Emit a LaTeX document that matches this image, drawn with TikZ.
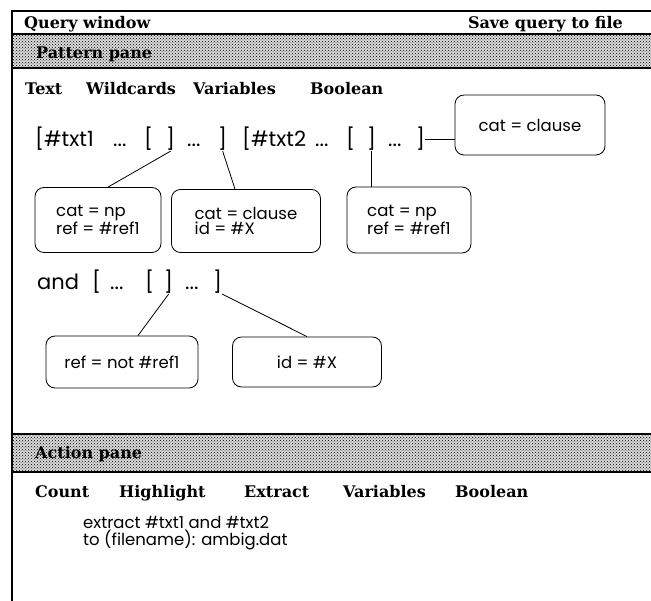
\documentclass[tikz,border=0pt]{standalone}
\usepackage{fontspec}
\newfontfamily\patfont{Poppins}
\newfontfamily\menufont{DejaVu Serif}
\usetikzlibrary{positioning, patterns}
\tikzset{
	menu/.style  ={anchor=base west, inner sep=0pt, font=\menufont\bfseries\fontsize{16}{19}\selectfont},
	pat/.style   ={anchor=base west, inner sep=0pt, font=\patfont\fontsize{21}{24}\selectfont},
	attr/.style  ={rectangle, rounded corners=9pt, draw=black, thick, align=left, inner sep=0pt, font=\patfont\fontsize{16.5}{15.5}\selectfont},
	cmdtext/.style={anchor=base west, inner sep=0pt, align=left, font=\patfont\fontsize{16.5}{15.5}\selectfont},
	link/.style  ={thick},
	bar/.style   ={pattern=crosshatch dots, pattern color=black},
	rule/.style  ={line width=1.4pt},
}
\begin{document}
\begin{tikzpicture}[x=1pt, y=-1pt]
	\useasboundingbox (0,0) rectangle (651,601);
	% window frame and shaded pane bars
	\fill[black!15] (12,34) rectangle (651,68);
	\fill[black!15] (12,434) rectangle (651,472);
	\fill[bar] (12,34) rectangle (651,68);
	\fill[bar] (12,434) rectangle (651,472);
	\draw[rule] (651,11) -- (12,11) -- (12,601);
	\foreach \y in {34,68,434,472} {\draw[rule] (12,\y) -- (651,\y);}
	\node[menu] (qw) at (24,29) {Query window};
	\node[menu, anchor=base east] (save) at (623,29) {Save query to file};
	\node[menu] (ppane) at (36,59) {Pattern pane};
	\node[menu] (apane) at (35,459) {Action pane};
	\foreach \x/\w in {25/Text, 86/Wildcards, 193/Variables, 310/Boolean} {\node[menu] (pm-\w) at (\x,95) {\w};}
	\foreach \x/\w in {35/Count, 119/Highlight, 244/Extract, 343/Variables, 455/Boolean} {\node[menu] (am-\w) at (\x,498) {\w};}
	% first pattern line
	\node[pat] (t1) at (35,147) {[\#txt1};
	\node[pat] (d1) at (113,147) {...};
	\node[pat] (l1o) at (144,147) {[};
	\node[pat] (l1c) at (166,147) {]};
	\node[pat] (d2) at (187,147) {...};
	\node[pat] (l1e) at (218,147) {]};
	\node[pat] (t2) at (242,147) {[\#txt2};
	\node[pat] (d3) at (315,147) {...};
	\node[pat] (l2o) at (346,147) {[};
	\node[pat] (l2c) at (367,147) {]};
	\node[pat] (d4) at (388,147) {...};
	\node[pat] (l2e) at (416,147) {]};
	% second pattern line
	\node[pat] (a0) at (37,290) {and};
	\node[pat] (a1) at (92,290) {[};
	\node[pat] (d5) at (110,290) {...};
	\node[pat] (a1o) at (145,290) {[};
	\node[pat] (a1c) at (164,290) {]};
	\node[pat] (d6) at (185,290) {...};
	\node[pat] (a1e) at (213,290) {]};
	% feature boxes
	\node[attr, minimum width=150pt, minimum height=60pt] (clause) at (530,125) {cat = clause};
	\node[attr, minimum width=126pt, minimum height=65pt] (np1) at (98,220) {cat = np\\ref = \#ref1};
	\node[attr, minimum width=149pt, minimum height=63pt] (cl1) at (246,221) {cat = clause\\id = \#X};
	\node[attr, minimum width=124pt, minimum height=66pt] (np2) at (409,220) {cat = np\\ref = \#ref1};
	\node[attr, minimum width=152pt, minimum height=52pt] (notref) at (122,362) {ref = not \#ref1};
	\node[attr, minimum width=149pt, minimum height=50pt] (idx) at (307,362) {id = \#X};
	\draw[link] (l2e.east) -- (l2e.east -| clause.west);
	\draw[link] (l1c.south) -- ([xshift=10pt]np1.north);
	\draw[link] (l1e.south) -- ([xshift=-11pt]cl1.north);
	\draw[link] (l2c.south) -- (l2c.south |- np2.north);
	\draw[link] (a1c.south) -- ([xshift=16pt]notref.north);
	\draw[link] (a1e.south east) -- (idx.north);
	% action text
	\node[cmdtext] (cmd) at (83,545) {extract \#txt1 and \#txt2\\to (filename): ambig.dat};
\end{tikzpicture}
\end{document}
